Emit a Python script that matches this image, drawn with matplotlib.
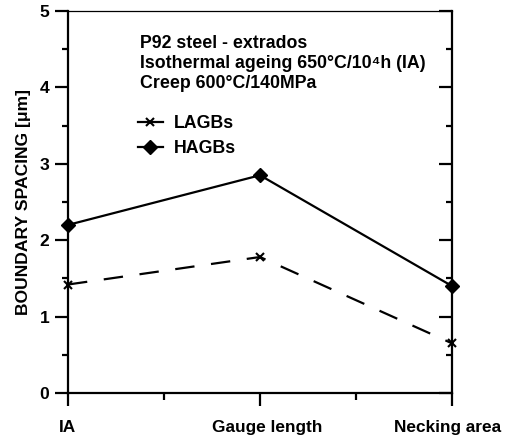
import matplotlib
matplotlib.use("Agg")
import matplotlib.pyplot as plt
import matplotlib.transforms as mtransforms
from matplotlib.ticker import MultipleLocator

plt.rcParams['font.family'] = ['Liberation Sans', 'DejaVu Sans']
plt.rcParams['font.weight'] = 'bold'
plt.rcParams['lines.scale_dashes'] = False

categories = ["IA", "Gauge length", "Necking area"]
lagbs = [1.42, 1.78, 0.65]
hagbs = [2.2, 2.85, 1.4]
annotation = ["P92 steel - extrados",
              "Isothermal ageing 650°C/10⁴h (IA)",
              "Creep 600°C/140MPa"]

fig = plt.figure(figsize=(5.05, 4.44), dpi=100)
ax = fig.add_axes([68/505, 51/444, 384/505, 382/444])

x = list(range(len(categories)))
ax.plot(x, lagbs, color='black', lw=1.6, linestyle=(0, (14, 12)),
        marker='x', markersize=6, markeredgewidth=1.5, clip_on=False, zorder=3)
ax.plot(x, hagbs, color='black', lw=1.6, linestyle='-',
        marker='D', markersize=7, clip_on=False, zorder=3)

ax.set_xlim(0, 2)
ax.set_ylim(0, 5)
ax.set_xticks(x)
ax.set_xticklabels(categories, fontsize=12.4, fontweight='bold')
ax.xaxis.set_minor_locator(MultipleLocator(0.5))
ax.yaxis.set_major_locator(MultipleLocator(1))
ax.yaxis.set_minor_locator(MultipleLocator(0.5))
ax.tick_params(axis='y', which='major', direction='out', length=9.5, width=1.6,
               labelsize=12.6, pad=4, right=True)
ax.tick_params(axis='y', which='minor', direction='out', length=4, width=1.6, right=True)
ax.tick_params(axis='x', which='major', direction='out', length=9.5, width=1.6, pad=10)
ax.tick_params(axis='x', which='minor', direction='out', length=5, width=1.6)
for lab in ax.get_yticklabels():
    lab.set_fontweight('bold')
for t in ax.yaxis.get_major_ticks() + ax.yaxis.get_minor_ticks():
    t.tick2line.set_marker(matplotlib.lines.TICKLEFT)

# small horizontal offsets of category labels as in the reference
xl = ax.get_xticklabels()
for lab, dx in zip(xl, [0, 7, -4]):
    lab.set_transform(lab.get_transform() + mtransforms.ScaledTranslation(dx/100, 0, fig.dpi_scale_trans))

for s in ['left', 'right', 'bottom']:
    ax.spines[s].set_linewidth(1.6)
ax.spines['top'].set_linewidth(0.9)

ax.set_ylabel("BOUNDARY SPACING [μm]", fontsize=12.6, fontweight='bold', labelpad=6)

ys = [44, 64, 83]
for line, yp in zip(annotation, ys):
    ax.text((140-68)/384, (393-yp)/382, line, transform=ax.transAxes,
            fontsize=12.8, fontweight='bold', va='center', ha='left')

leg = ax.legend(["LAGBs", "HAGBs"], loc='upper left',
                bbox_to_anchor=((138-68)/384, (393-115)/382),
                frameon=False, prop={'size': 12.8, 'weight': 'bold'},
                handlelength=1.4, handletextpad=0.6, labelspacing=0.45,
                borderpad=0, borderaxespad=0)
leg.get_lines()[0].set_linestyle('-')

fig.savefig("out.png", dpi=100)
